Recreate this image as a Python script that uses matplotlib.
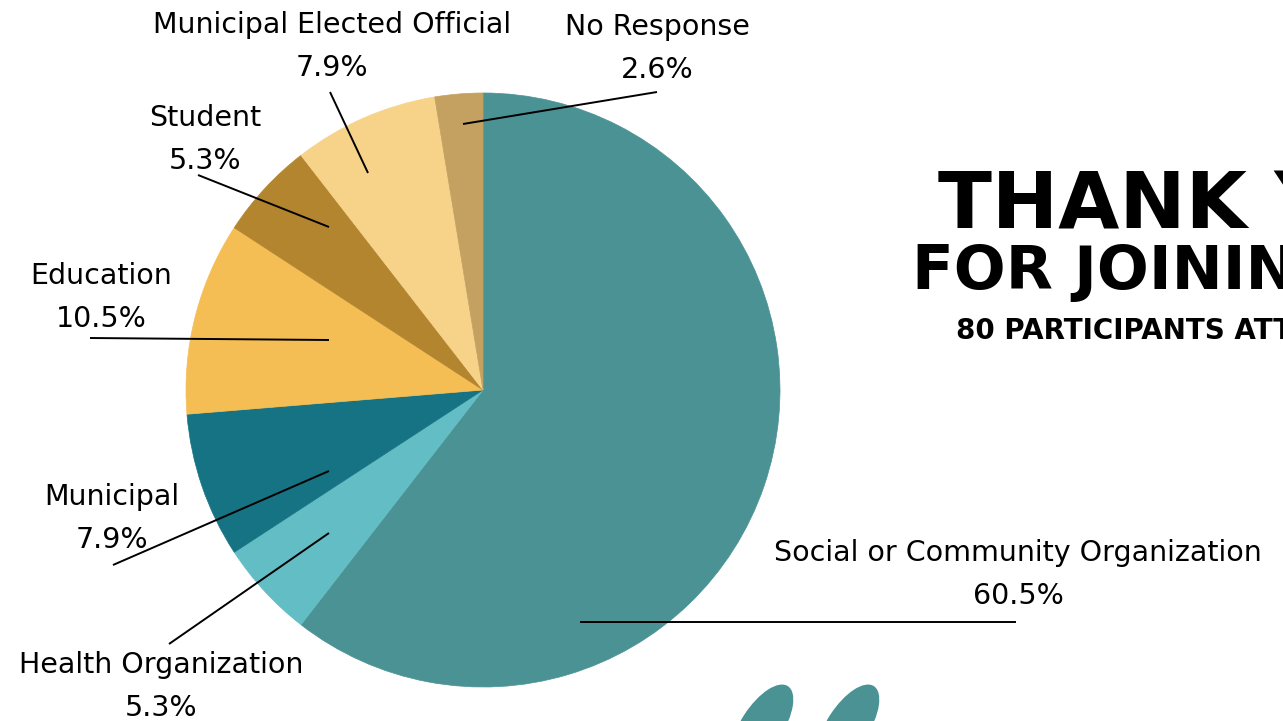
import matplotlib
matplotlib.use("Agg")
import matplotlib.pyplot as plt
from matplotlib.patches import Ellipse

# dados da pizza
categories = ["Social or Community Organization", "Health Organization", "Municipal",
              "Education", "Student", "Municipal Elected Official", "No Response"]
shares = [60.5, 5.3, 7.9, 10.5, 5.3, 7.9, 2.6]
colors = ["#4a9294", "#62bec4", "#167383", "#f4be55", "#b3852f", "#f7d38a", "#c4a161"]

# posicoes dos rotulos (pixels): texto (x, y) e linha (x0, y0) -> (x1, y1)
label_pos = [(1018, 553), (161, 665), (112, 497), (101, 276), (205, 118), (332, 25), (657, 27)]
line_pos = [((580, 622), (1016, 622)), ((329, 533), (169, 644)), ((329, 471), (113, 565)),
            ((329, 340), (90, 338)), ((329, 227), (198, 175)), ((368, 173), (330, 92)),
            ((463, 124), (657, 92))]

W, H = 1283, 721
fig = plt.figure(figsize=(W / 100, H / 100), dpi=100)
ax = fig.add_axes([0, 0, 1, 1])

wedges, _ = ax.pie(shares, colors=colors, startangle=-90, counterclock=True,
                   center=(483, 390), radius=297)
for w, c in zip(wedges, colors):
    w.set_edgecolor(c)
    w.set_linewidth(0.5)
ax.set_xlim(0, W)
ax.set_ylim(H, 0)
ax.set_aspect("equal")
ax.axis("off")

font = "DejaVu Sans"
for name, val, (tx, ty), (p0, p1) in zip(categories, shares, label_pos, line_pos):
    ax.plot([p0[0], p1[0]], [p0[1], p1[1]], color="black", lw=1.4, solid_capstyle="butt")
    ax.text(tx, ty, name, ha="center", va="center", fontsize=20.5, family=font)
    ax.text(tx, ty + 43, f"{val:.1f}%", ha="center", va="center", fontsize=20.5, family=font)

# titulo a direita (cortado na borda, como no original)
ax.text(938, 206, "THANK YOU", ha="left", va="center", fontsize=57, weight="bold", family=font)
ax.text(912, 272, "FOR JOINING US", ha="left", va="center", fontsize=44, weight="bold", family=font)
ax.text(956, 331, "80 PARTICIPANTS ATTENDED", ha="left", va="center", fontsize=20, weight="bold", family=font)

# aspas decorativas embaixo
for cx in (762, 848):
    ax.add_patch(Ellipse((cx, 726), 42, 95, angle=33, color="#4a9294", lw=0))

fig.savefig("out.png", dpi=100)
